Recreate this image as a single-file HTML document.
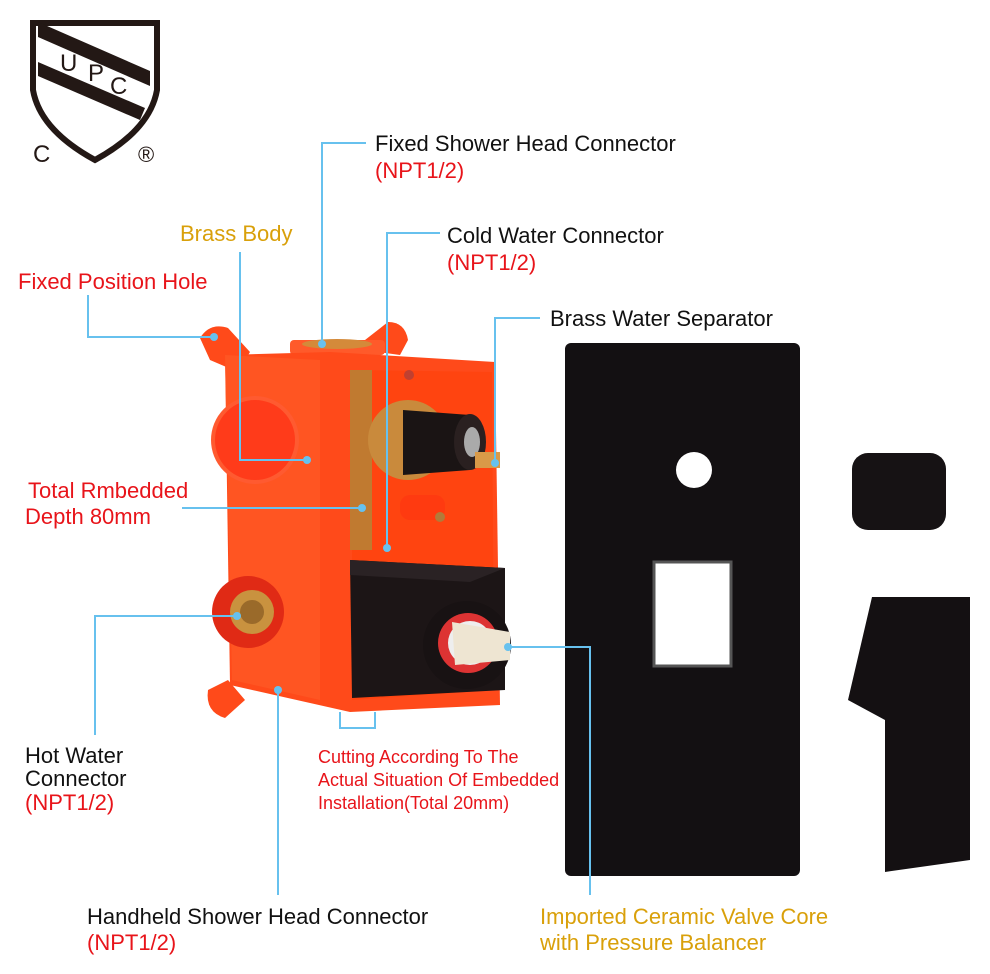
<!DOCTYPE html>
<html><head><meta charset="utf-8"><style>
html,body{margin:0;padding:0;background:#fff;}
svg{display:block}
text{font-family:"Liberation Sans",Arial,sans-serif;}
</style></head><body>
<svg width="990" height="974" viewBox="0 0 990 974" xmlns="http://www.w3.org/2000/svg">
<!-- UPC logo -->
<g fill="none" stroke="#231815" stroke-width="6">
<path d="M33,23 L157,23 L157,90 Q150,130 95,160 Q40,130 33,90 Z"/>
</g>
<path d="M38,28 L150,77 L150,92 L38,43 Z" fill="#231815" transform="translate(0,-6)"/>
<path d="M38,62 L145,108 L140,120 L38,76 Z" fill="#231815"/>
<text x="60" y="71" font-size="24" fill="#231815">U</text>
<text x="88" y="81" font-size="24" fill="#231815">P</text>
<text x="110" y="94" font-size="24" fill="#231815">C</text>
<text x="33" y="162" font-size="24" fill="#231815">C</text>
<text x="138" y="162" font-size="22" fill="#231815">®</text>

<!-- valve body -->
<g>
<path d="M200,338 Q210,322 228,328 L250,352 L238,372 L210,360 Z" fill="#ff4a1a"/>
<path d="M365,340 L388,322 Q405,322 408,340 L400,355 L378,352 Z" fill="#ff4a1a"/>
<path d="M208,690 L228,680 L245,700 L225,718 Q205,712 208,690 Z" fill="#ff4a1a"/>
<rect x="290" y="340" width="95" height="15" rx="4" fill="#ff5a2a"/>
<ellipse cx="337" cy="344" rx="35" ry="5" fill="#d48a3a"/>
<path d="M225,355 L330,352 L495,362 L500,705 L350,712 L230,685 Z" fill="#ff4a1a"/>
<path d="M225,355 L320,360 L320,700 L232,680 Z" fill="#ff5522"/>
<circle cx="255" cy="440" r="42" fill="#ff3b1a" stroke="#ff5a30" stroke-width="4"/>
<path d="M352,370 L492,372 L494,690 L352,700 Z" fill="#ff4410"/>
<rect x="350" y="370" width="22" height="180" fill="#c07a30"/>
<circle cx="408" cy="440" r="40" fill="#c98a3c"/>
<path d="M403,410 L470,415 L470,470 L403,475 Z" fill="#1a1414"/>
<ellipse cx="470" cy="442" rx="16" ry="28" fill="#2a2020"/>
<ellipse cx="472" cy="442" rx="8" ry="15" fill="#aaa"/>
<rect x="475" y="452" width="25" height="16" fill="#d99a48"/>
<rect x="400" y="495" width="45" height="25" rx="10" fill="#ff3a10"/>
<circle cx="440" cy="517" r="5" fill="#b27a3a"/>
<circle cx="409" cy="375" r="5" fill="#c04030"/>
<path d="M350,560 L505,568 L505,690 L352,698 Z" fill="#1c1516"/>
<path d="M350,560 L505,568 L470,582 L350,575 Z" fill="#2a2224"/>
<circle cx="467" cy="645" r="44" fill="#181213"/>
<circle cx="468" cy="643" r="30" fill="#d33"/>
<circle cx="470" cy="643" r="22" fill="#eee"/>
<path d="M452,622 L510,632 L510,660 L455,665 Z" fill="#eee5d2"/>
<circle cx="248" cy="612" r="36" fill="#e02a15"/>
<circle cx="252" cy="612" r="22" fill="#c9923f"/>
<circle cx="252" cy="612" r="12" fill="#9a6a2a"/>
</g>

<!-- cover plate -->
<rect x="565" y="343" width="235" height="533" rx="6" fill="#131012"/>
<circle cx="694" cy="470" r="18" fill="#fff"/>
<rect x="654" y="562" width="77" height="104" fill="#fff" stroke="#555" stroke-width="3"/>
<rect x="852" y="453" width="94" height="77" rx="16" fill="#161214"/>
<path d="M848,700 L872,597 L970,597 L970,860 L885,872 L885,720 Z" fill="#141012"/>

<!-- leader lines -->
<g stroke="#67c1ee" stroke-width="2" fill="none">
<polyline points="366,143 322,143 322,344"/>
<polyline points="240,252 240,460 307,460"/>
<polyline points="88,295 88,337 214,337"/>
<polyline points="440,233 387,233 387,548"/>
<polyline points="540,318 495,318 495,463"/>
<polyline points="182,508 362,508"/>
<polyline points="95,735 95,616 237,616"/>
<polyline points="278,895 278,690"/>
<polyline points="340,712 340,728 375,728 375,712"/>
<polyline points="590,895 590,647 508,647"/>
</g>
<g fill="#67c1ee">
<circle cx="322" cy="344" r="4"/><circle cx="307" cy="460" r="4"/><circle cx="214" cy="337" r="4"/>
<circle cx="387" cy="548" r="4"/><circle cx="495" cy="463" r="4"/><circle cx="362" cy="508" r="4"/>
<circle cx="237" cy="616" r="4"/><circle cx="278" cy="690" r="4"/><circle cx="508" cy="647" r="4"/>
</g>

<!-- labels -->
<g font-size="22">
<text x="375" y="151" fill="#111">Fixed Shower Head Connector</text>
<text x="375" y="178" fill="#e8141a">(NPT1/2)</text>
<text x="180" y="241" fill="#d9a00a">Brass Body</text>
<text x="447" y="243" fill="#111">Cold Water Connector</text>
<text x="447" y="270" fill="#e8141a">(NPT1/2)</text>
<text x="18" y="289" fill="#e8141a">Fixed Position Hole</text>
<text x="550" y="326" fill="#111">Brass Water Separator</text>
<text x="28" y="498" fill="#e8141a">Total Rmbedded</text>
<text x="25" y="524" fill="#e8141a">Depth 80mm</text>
<text x="25" y="763" fill="#111">Hot Water</text>
<text x="25" y="786" fill="#111">Connector</text>
<text x="25" y="810" fill="#e8141a">(NPT1/2)</text>
<text x="87" y="924" fill="#111">Handheld Shower Head Connector</text>
<text x="87" y="950" fill="#e8141a">(NPT1/2)</text>
<text x="540" y="924" fill="#d9a00a">Imported Ceramic Valve Core</text>
<text x="540" y="950" fill="#d9a00a">with Pressure Balancer</text>
</g>
<g font-size="18" fill="#e8141a">
<text x="318" y="763">Cutting According To The</text>
<text x="318" y="786">Actual Situation Of Embedded</text>
<text x="318" y="809">Installation(Total 20mm)</text>
</g>
</svg>
</body></html>
